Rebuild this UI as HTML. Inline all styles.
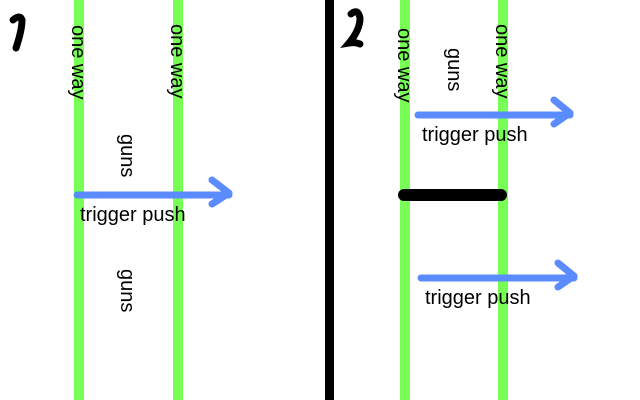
<!DOCTYPE html>
<html><head><meta charset="utf-8"><style>
body{margin:0;width:640px;height:400px;background:#fff;overflow:hidden}
svg{display:block}
text{font-family:"Liberation Sans",sans-serif;font-size:20px;fill:#000}
</style></head><body>
<svg width="640" height="400" viewBox="0 0 640 400">
<g fill="#77ff55">
<rect x="74" y="0" width="10" height="400"/>
<rect x="173" y="0" width="10" height="400"/>
<rect x="400" y="0" width="10" height="400"/>
<rect x="498" y="0" width="10" height="400"/>
</g>
<rect x="325" y="0" width="9" height="400" fill="#000"/>
<line x1="404" y1="195" x2="501" y2="195" stroke="#000" stroke-width="12" stroke-linecap="round"/>
<path d="M13 20 Q20 14 22 20 Q22 30 16 48" stroke="#000" stroke-width="7" fill="none" stroke-linecap="round"/>
<path d="M351 14 Q358 8 360 18 Q360 30 349 43 Q355 42 360 44" stroke="#000" stroke-width="7" fill="none" stroke-linecap="round"/>
<g stroke="#5b8cff" stroke-width="7" fill="none" stroke-linecap="round" stroke-linejoin="round">
<path d="M77 195 H229 M212 180 L229 193 L212 204"/>
<path d="M418 115 H570 M554 100 L570 113 L554 124"/>
<path d="M421 278 H574 M558 263 L574 276 L558 287"/>
</g>
<text x="80" y="221">trigger push</text>
<text x="422" y="141">trigger push</text>
<text x="425" y="304">trigger push</text>
<text transform="translate(72,25) rotate(90)">one way</text>
<text transform="translate(171,24) rotate(90)">one way</text>
<text transform="translate(398,28) rotate(90)">one way</text>
<text transform="translate(496,24) rotate(90)">one way</text>
<text transform="translate(121,134) rotate(90)">guns</text>
<text transform="translate(121,269) rotate(90)">guns</text>
<text transform="translate(448,48) rotate(90)">guns</text>
</svg>
</body></html>
